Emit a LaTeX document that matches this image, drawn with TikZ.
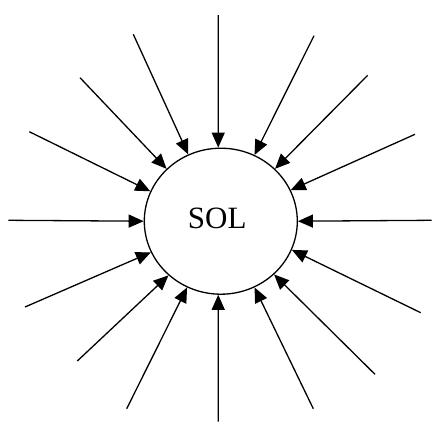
\documentclass[tikz,border=0pt]{standalone}
\usepackage{fontspec}
\setmainfont{Liberation Serif}
\usetikzlibrary{arrows.meta,shapes.geometric}
\tikzset{
  ray/.style={line width=1.3pt,-{Triangle[length=15pt,width=13pt]}},
  sun/.style={draw,line width=1.3pt,ellipse,inner sep=0pt,
    minimum width=153pt,minimum height=146pt},
  suntext/.style={font=\fontsize{31}{31}\selectfont,inner sep=0pt}
}
\begin{document}
\begin{tikzpicture}[x=1pt,y=-1pt]
  \useasboundingbox (0,0) rectangle (432,423);
  % the sun
  \node[sun] (sol) at (220.8,221.2) {};
  \node[suntext] (name) at (217.2,218.5) {SOL};
  % outer ends of the rays
  \coordinate (r1)  at (218.3,15);
  \coordinate (r2)  at (133.3,34.3);
  \coordinate (r3)  at (80,77.7);
  \coordinate (r4)  at (29.3,131.7);
  \coordinate (r5)  at (314,35.7);
  \coordinate (r6)  at (367.7,75.3);
  \coordinate (r7)  at (415,134.3);
  \coordinate (r8)  at (8.3,220.3);
  \coordinate (r9)  at (431.7,220.3);
  \coordinate (r10) at (25,307);
  \coordinate (r11) at (77.3,361);
  \coordinate (r12) at (126.7,408.7);
  \coordinate (r13) at (218.3,421.7);
  \coordinate (r14) at (313.3,408.7);
  \coordinate (r15) at (375,374.3);
  \coordinate (r16) at (420.7,312.7);
  % rays pointing into the sun
  \draw[ray] (r1)  -- (sol.92);
  \draw[ray] (r2)  -- (sol.116.7);
  \draw[ray] (r3)  -- (sol.136.5);
  \draw[ray] (r4)  -- (sol.157.4);
  \draw[ray] (r5)  -- (sol.63.3);
  \draw[ray] (r6)  -- (sol.44.8);
  \draw[ray] (r7)  -- (sol.24.4);
  \draw[ray] (r8)  -- (sol.180);
  \draw[ray] (r9)  -- (sol.0);
  \draw[ray] (r10) -- (sol.204.4);
  \draw[ray] (r11) -- (sol.226.3);
  \draw[ray] (r12) -- (sol.243.5);
  \draw[ray] (r13) -- (sol.268);
  \draw[ray] (r14) -- (sol.297.2);
  \draw[ray] (r15) -- (sol.315.6);
  \draw[ray] (r16) -- (sol.338);
\end{tikzpicture}
\end{document}
